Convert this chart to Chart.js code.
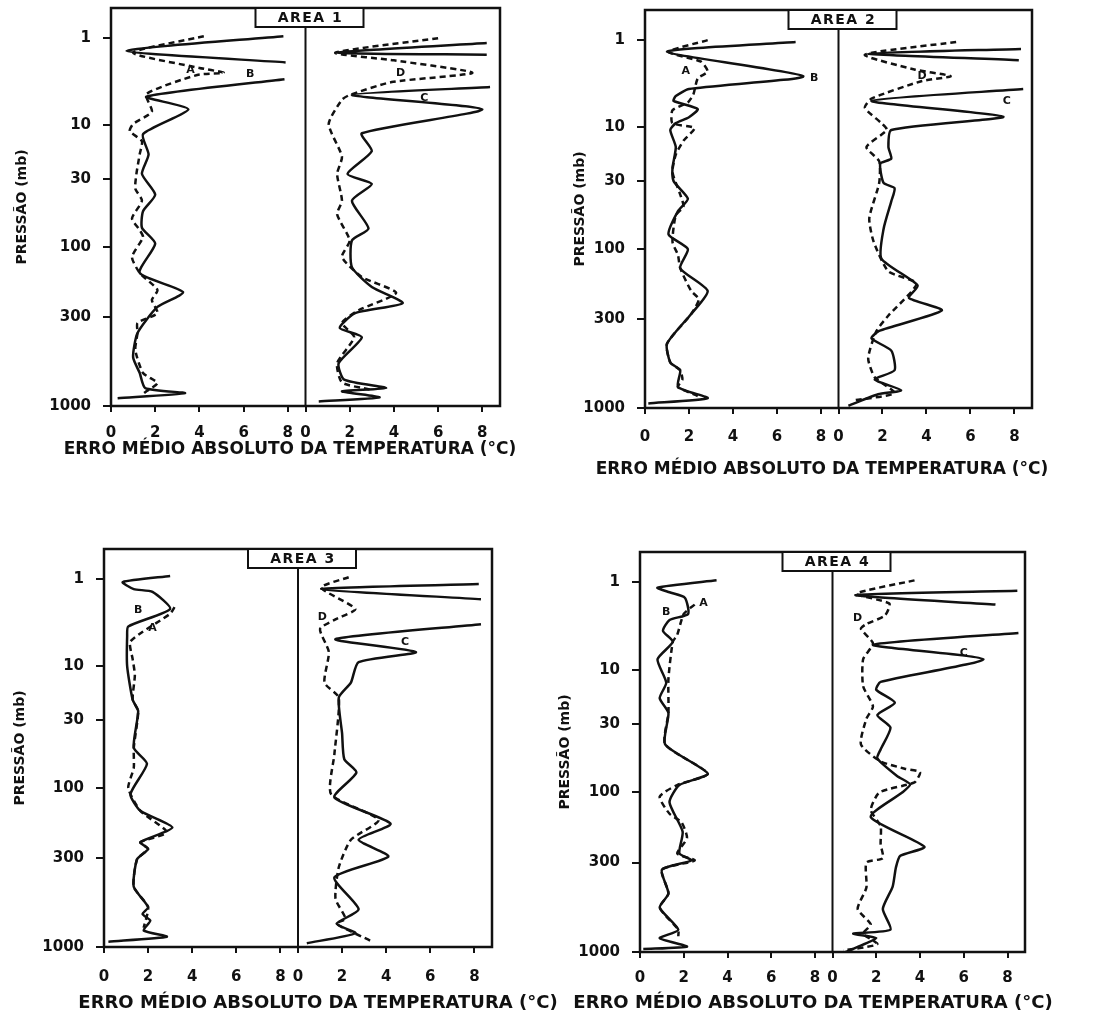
<!DOCTYPE html>
<html lang="pt">
<head>
<meta charset="utf-8">
<title>Erro médio absoluto da temperatura</title>
<script src="https://cdn.jsdelivr.net/npm/chart.js@4.4.1/dist/chart.umd.min.js"></script>
<style>
  html, body { margin: 0; padding: 0; background: #fff; }
  body { width: 1109px; height: 1023px; position: relative; overflow: hidden; }
  canvas { position: absolute; }
</style>
</head>
<body>
<canvas id="area1"></canvas>
<canvas id="area2"></canvas>
<canvas id="area3"></canvas>
<canvas id="area4"></canvas>
<script>
// ---- axis definitions -------------------------------------------------
const PRESSURE_TICKS = [1, 10, 30, 100, 300, 1000];          // mb
const ERROR_TICKS = [0, 2, 4, 6, 8];                           // °C, each sub-panel
const X_TITLE = 'ERRO MÉDIO ABSOLUTO DA TEMPERATURA (°C)';
const Y_TITLE = 'PRESSÃO (mb)';
const AREA_NAMES = ['AREA 1', 'AREA 2', 'AREA 3', 'AREA 4'];

// ---- profiles: [pressure (mb), mean absolute error (°C)] --------------
// null marks a stretch that runs off the 0–8 °C scale.
const AREA1_A = [[0.95,4.2],[1.47,1.0],[2.2,4.0],[2.5,5.1],[2.65,3.9],[4.4,1.6],[7,1.85],[9.7,1.0],[11.3,0.85],[13.9,1.4],[18,1.3],[27,1.15],[35.6,1.1],[44,1.4],[60,0.95],[74,1.3],[84,1.45],[117,0.95],[150,1.3],[196,2.1],[230,1.85],[282,2.1],[325,1.2],[372,1.2],[469,1.1],[640,1.45],[733,2.1],[820,1.6],[860,1.4]];
const AREA1_B = [[0.95,7.8],[1.4,0.7],[1.9,7.9],[2.4,null],[2.96,7.85],[4.7,1.6],[6.6,3.5],[12,1.45],[18.2,1.7],[27,1.4],[39.5,2.0],[53,1.45],[71,1.4],[94,2.0],[150,1.3],[203,3.26],[256,2.1],[372,1.2],[516,1.0],[640,1.3],[784,1.55],[840,3.35],[900,0.3]];
const AREA1_C = [[1.14,8.2],[1.47,1.43],[1.55,8.2],[2.5,null],[3.65,8.35],[4.5,2.1],[6.6,8.0],[11.8,2.55],[17,3.0],[27,1.9],[32.7,3.0],[44,2.1],[72,2.85],[89,2.1],[137,2.1],[187,3.0],[241,4.4],[282,2.25],[348,1.55],[394,2.55],[560,1.5],[700,1.75],[784,3.65],[820,1.65],[890,3.35],[940,0.6]];
const AREA1_D = [[1.0,6.0],[1.47,1.35],[1.8,4.0],[2.5,7.55],[3.2,3.9],[4.5,2.0],[5.1,1.65],[9.7,1.05],[19,1.65],[27,1.43],[44,1.65],[56,1.43],[89,2.0],[117,1.65],[160,2.55],[205,4.1],[270,2.4],[325,1.65],[394,2.2],[560,1.43],[727,1.65],[800,2.9]];

const AREA2_A = [[1.0,2.85],[1.36,1.07],[1.77,2.55],[2.3,2.85],[2.75,2.4],[4.2,2.2],[5.2,1.95],[6.4,1.25],[9,1.25],[10.2,2.25],[13.2,1.75],[17.5,1.4],[25,1.25],[38,1.6],[47,1.75],[55,1.4],[88,1.25],[110,1.5],[135,1.6],[193,2.1],[220,2.45],[277,2.1],[419,1.0],[540,1.15],[600,1.6],[680,1.7],[753,1.5],[850,2.4]];
const AREA2_B = [[1.05,6.85],[1.36,1.0],[2.6,7.2],[3.65,2.0],[4.4,1.4],[5,1.3],[6.2,2.4],[7.7,2.0],[9,1.4],[10.6,1.15],[15,1.4],[23,1.25],[30,1.3],[41,1.95],[51,1.5],[77,1.07],[100,1.95],[135,1.6],[193,2.85],[277,2.1],[419,1.0],[540,1.15],[600,1.6],[753,1.5],[876,2.85],[940,0.15]];
const AREA2_C = [[1.26,8.3],[1.43,1.35],[1.7,8.2],[2.5,null],[3.65,8.4],[5,1.5],[7.6,7.5],[10.6,2.4],[15,2.27],[19,2.4],[21,1.9],[31,2.05],[34,2.55],[43,2.4],[70,2.05],[116,1.95],[177,3.6],[215,3.2],[262,4.7],[352,1.85],[390,1.5],[460,2.4],[600,2.55],[680,1.65],[787,2.85],[830,1.8],[970,0.45]];
const AREA2_D = [[1.05,5.35],[1.47,1.2],[2.17,3.45],[2.6,5.1],[2.95,3.8],[4.7,1.5],[6,1.2],[9,1.95],[10.6,2.2],[15,1.27],[20,1.85],[31,1.85],[58,1.4],[88,1.6],[142,2.27],[172,3.55],[284,2.27],[352,1.73],[510,1.35],[660,1.65],[817,2.55],[900,0.75]];

const AREA3_A = [[2.1,3.2],[2.5,3.0],[5.2,1.2],[8.3,1.3],[12,1.4],[19.8,1.3],[25,1.55],[49,1.35],[70,1.35],[100,1.1],[143,1.65],[200,2.85],[234,1.65],[260,2.0],[305,1.5],[443,1.35],[582,2.0],[770,1.8]];
const AREA3_B = [[0.92,3.0],[1.08,0.85],[1.3,1.35],[1.4,2.2],[2.2,3.0],[3.5,1.1],[4.5,1.05],[10,1.05],[19.8,1.3],[25,1.55],[49,1.35],[65,1.95],[110,1.2],[143,1.65],[186,3.1],[234,1.65],[260,2.0],[305,1.5],[443,1.35],[582,2.0],[640,1.75],[700,2.1],[800,1.8],[870,2.85],[930,0.2]];
const AREA3_C = [[1.14,8.2],[1.3,1.05],[1.7,8.3],[2.5,null],[3.3,8.3],[4.9,1.7],[6.9,5.35],[9,2.75],[14,2.4],[19,1.85],[38,2.0],[60,2.1],[76,2.65],[116,1.65],[175,4.2],[225,2.75],[293,4.1],[390,1.65],[600,2.75],[730,1.75],[830,2.6],[950,0.4]];
const AREA3_D = [[0.95,2.3],[1.25,1.05],[2.2,2.6],[2.9,1.7],[3.75,1.0],[6.9,1.4],[14,1.2],[19,1.85],[55,1.65],[110,1.5],[165,3.65],[225,2.4],[340,1.85],[520,1.7],[680,2.15],[730,1.75],[920,3.3]];

const AREA4_A = [[1.8,2.5],[2.3,2.0],[4.0,1.7],[4.8,1.5],[12,1.3],[24,1.3],[43,1.15],[72,3.1],[88,1.7],[107,0.9],[140,1.35],[160,1.9],[205,2.15],[260,1.7],[290,2.5],[330,1.0],[455,1.3],[550,0.9],[740,1.75],[810,1.75]];
const AREA4_B = [[0.95,3.5],[1.15,0.8],[1.3,1.35],[1.5,2.05],[2.3,2.2],[2.7,1.35],[3.6,1.05],[4.8,1.5],[7.6,0.8],[13,1.2],[17.8,0.9],[24,1.3],[43,1.15],[72,3.1],[88,1.8],[117,1.35],[185,1.95],[260,1.8],[290,2.35],[330,1.0],[455,1.3],[550,0.9],[740,1.75],[830,0.9],[930,2.15],[960,0.15]];
const AREA4_C = [[1.25,8.45],[1.4,1.05],[1.8,7.45],[2.5,null],[3.8,8.5],[5.2,1.85],[7.6,6.9],[12.8,2.2],[15,2.0],[19.5,2.85],[25,2.05],[32,2.65],[47,2.2],[55,2.05],[75,2.95],[87,3.55],[100,3.2],[147,1.75],[234,4.2],[270,3.1],[320,2.9],[415,2.75],[560,2.3],[740,2.65],[780,0.95],[830,2.0],[940,1.1],[1000,0.6]];
const AREA4_D = [[0.95,3.75],[1.35,1.1],[1.75,2.6],[2.4,2.4],[3.0,1.55],[3.4,1.3],[5,1.85],[7.6,1.4],[14,1.4],[21,1.85],[27,1.55],[43,1.3],[58,2.2],[66,3.3],[70,4.0],[84,3.75],[100,2.15],[132,1.75],[170,2.2],[225,2.2],[280,2.3],[300,1.55],[420,1.55],[560,1.15],[690,1.75],[780,1.4],[900,2.05],[980,0.5]];

// curve tags: [letter, pressure (mb), error (°C), sub-panel]
const AREA1_TAGS = [['A',2.35,3.6,'left'],['B',2.6,6.3,'left'],['D',2.5,4.3,'right'],['C',4.9,5.37,'right']];
const AREA2_TAGS = [['A',2.3,1.85,'left'],['B',2.75,7.7,'left'],['D',2.6,3.8,'right'],['C',5.0,7.65,'right']];
const AREA3_TAGS = [['B',2.3,1.55,'left'],['A',3.7,2.2,'left'],['D',2.7,1.1,'right'],['C',5.3,4.85,'right']];
const AREA4_TAGS = [['A',1.75,2.9,'left'],['B',2.2,1.2,'left'],['D',2.6,1.15,'right'],['C',6.5,6.0,'right']];

// ---- drawing setup ---------------------------------------------------
const INK = '#111';
const FONT = "'DejaVu Sans', 'Liberation Sans', sans-serif";
Chart.defaults.font.family = FONT;
Chart.defaults.color = INK;

const ERROR_SPAN = 8.8;        // each sub-panel runs from 0 to this value
const PRESSURE_TOP = 0.45;     // pressure at the top edge of the frame
// vertical spacing between the labelled levels, in axis units
const LEVEL_UNITS = [0, 87, 141, 209, 279, 368];

function pressureUnits(p) {
  const lp = Math.log10(p);
  const L = PRESSURE_TICKS.map(Math.log10);
  let i = 0;
  while (i < L.length - 2 && lp > L[i + 1]) i++;
  const t = (lp - L[i]) / (L[i + 1] - L[i]);
  return LEVEL_UNITS[i] + t * (LEVEL_UNITS[i + 1] - LEVEL_UNITS[i]);
}
function unitsToPressure(u) {
  const L = PRESSURE_TICKS.map(Math.log10);
  let i = 0;
  while (i < L.length - 2 && u > LEVEL_UNITS[i + 1]) i++;
  const t = (u - LEVEL_UNITS[i]) / (LEVEL_UNITS[i + 1] - LEVEL_UNITS[i]);
  return Math.pow(10, L[i] + t * (L[i + 1] - L[i]));
}

// Pressure axis: logarithmic within each interval between labelled levels
class PressureScale extends Chart.LinearScale {
  static id = 'pressure';
  static defaults = {};
  determineDataLimits() {
    this.min = this.options.min;
    this.max = this.options.max;
  }
  buildTicks() {
    return PRESSURE_TICKS.map(value => ({ value }));
  }
  configure() {
    super.configure();
    this._uTop = pressureUnits(this.min);
    this._uBottom = pressureUnits(this.max);
  }
  getPixelForValue(value) {
    if (value === null || value === undefined || isNaN(value)) return NaN;
    return this.getPixelForDecimal((pressureUnits(value) - this._uTop) / (this._uBottom - this._uTop));
  }
  getValueForPixel(pixel) {
    return unitsToPressure(this._uTop + this.getDecimalForPixel(pixel) * (this._uBottom - this._uTop));
  }
}
Chart.register(PressureScale);

// frame, divider, area box and curve tags
const panelFrame = {
  id: 'panelFrame',
  afterDatasetsDraw(chart, args, opts) {
    const { ctx, chartArea: a, scales } = chart;
    ctx.save();
    ctx.strokeStyle = INK;
    ctx.lineWidth = 2.5;
    ctx.strokeRect(a.left, a.top, a.width, a.height);
    const xd = scales.x2.getPixelForValue(0);
    ctx.lineWidth = 2;
    ctx.beginPath();
    ctx.moveTo(xd, a.top);
    ctx.lineTo(xd, a.bottom);
    ctx.stroke();

    // area name box hanging from the top edge
    const bw = 108, bh = 19, bx = xd + 4 - bw / 2;
    ctx.fillStyle = '#fff';
    ctx.fillRect(bx, a.top, bw, bh);
    ctx.lineWidth = 2;
    ctx.strokeRect(bx, a.top, bw, bh);
    ctx.fillStyle = INK;
    ctx.font = 'bold 14px ' + FONT;
    ctx.textAlign = 'center';
    ctx.textBaseline = 'middle';
    if ('letterSpacing' in ctx) ctx.letterSpacing = '1.5px';
    ctx.fillText(opts.name, xd + 5, a.top + bh / 2 + 1);
    if ('letterSpacing' in ctx) ctx.letterSpacing = '0px';

    // letters identifying each curve
    ctx.font = 'bold 11px ' + FONT;
    for (const [letter, p, t, side] of opts.tags) {
      const xs = side === 'left' ? scales.x : scales.x2;
      ctx.fillText(letter, xs.getPixelForValue(t), scales.y.getPixelForValue(p));
    }
    ctx.restore();
  }
};

function profile(pairs) {
  return pairs.map(([p, t]) => ({ x: t, y: p }));
}
function curve(label, pairs, axis, dashed) {
  return {
    label,
    data: profile(pairs),
    xAxisID: axis,
    yAxisID: 'y',
    borderColor: INK,
    borderWidth: 2.5,
    borderDash: dashed ? [6, 4] : [],
    pointRadius: 0,
    tension: 0.2,
    fill: false,
    spanGaps: false
  };
}

// canvas placement and axis box sizes for each panel
const PANEL_BOXES = [
  { id: 'area1', left: 0,   top: -22, width: 580, height: 483, padBottom: 0.8, yWidth: 111, rightWidth: 80,  xHeight: 33.8, yTitlePad: 13.6, xTickPad: 12, titleSize: 17 },
  { id: 'area2', left: 560, top: -20, width: 524, height: 501, padBottom: 0.8, yWidth: 85,  rightWidth: 52,  xHeight: 51.8, yTitlePad: 11.6, xTickPad: 14, titleSize: 17 },
  { id: 'area3', left: 0,   top: 519, width: 636, height: 495, padBottom: 0.2, yWidth: 104, rightWidth: 144, xHeight: 45.2, yTitlePad: 11.6, xTickPad: 15, titleSize: 18 },
  { id: 'area4', left: 548, top: 522, width: 530, height: 492, padBottom: 0.2, yWidth: 92,  rightWidth: 53,  xHeight: 40.2, yTitlePad: 8.6,  xTickPad: 11, titleSize: 18 }
];

const PANEL_DATA = [
  { A: AREA1_A, B: AREA1_B, C: AREA1_C, D: AREA1_D, tags: AREA1_TAGS },
  { A: AREA2_A, B: AREA2_B, C: AREA2_C, D: AREA2_D, tags: AREA2_TAGS },
  { A: AREA3_A, B: AREA3_B, C: AREA3_C, D: AREA3_D, tags: AREA3_TAGS },
  { A: AREA4_A, B: AREA4_B, C: AREA4_C, D: AREA4_D, tags: AREA4_TAGS }
];

PANEL_BOXES.forEach((box, k) => {
  const d = PANEL_DATA[k];
  const canvas = document.getElementById(box.id);
  canvas.width = box.width;
  canvas.height = box.height;
  Object.assign(canvas.style, {
    left: box.left + 'px', top: box.top + 'px',
    width: box.width + 'px', height: box.height + 'px'
  });

  new Chart(canvas, {
    type: 'line',
    data: {
      datasets: [
        curve('A', d.A, 'x', true),
        curve('B', d.B, 'x', false),
        curve('C', d.C, 'x2', false),
        curve('D', d.D, 'x2', true)
      ]
    },
    options: {
      responsive: false,
      animation: false,
      events: [],
      layout: { padding: { left: 0, right: 0, top: 30, bottom: box.padBottom } },
      scales: {
        x: {
          type: 'linear',
          position: 'bottom',
          min: 0,
          max: 2 * ERROR_SPAN,
          afterBuildTicks(scale) {
            scale.ticks = ERROR_TICKS.map(v => ({ value: v }))
              .concat(ERROR_TICKS.map(v => ({ value: v + ERROR_SPAN })));
          },
          afterFit(scale) { scale.height = box.xHeight; },
          ticks: {
            autoSkip: false,
            maxRotation: 0,
            padding: box.xTickPad,
            font: { size: 15, weight: 'bold' },
            callback(value) {
              const v = value >= ERROR_SPAN - 1e-9 ? value - ERROR_SPAN : value;
              return String(Math.round(v * 10) / 10);
            }
          },
          grid: { drawOnChartArea: false, drawTicks: true, tickLength: 6, color: INK, lineWidth: 2 },
          border: { display: false }
        },
        x2: {
          type: 'linear',
          position: 'bottom',
          display: false,
          min: -ERROR_SPAN,
          max: ERROR_SPAN
        },
        y: {
          type: 'pressure',
          position: 'left',
          reverse: true,
          min: PRESSURE_TOP,
          max: 1000,
          afterFit(scale) { scale.width = box.yWidth; },
          ticks: {
            padding: 12,
            font: { size: 15, weight: 'bold' },
            callback: value => String(value)
          },
          grid: { drawOnChartArea: false, drawTicks: true, tickLength: 8, color: INK, lineWidth: 2 },
          border: { display: false },
          title: {
            display: true,
            text: Y_TITLE,
            font: { size: 14, weight: 'bold' },
            padding: { top: box.yTitlePad, bottom: 0 }
          }
        },
        yr: {
          type: 'linear',
          position: 'right',
          afterFit(scale) { scale.width = box.rightWidth; },
          ticks: { display: false },
          grid: { display: false },
          border: { display: false }
        }
      },
      plugins: {
        legend: { display: false },
        tooltip: { enabled: false },
        title: {
          display: true,
          text: X_TITLE,
          position: 'bottom',
          padding: 0,
          font: { size: box.titleSize, weight: 'bold' },
          color: INK
        },
        panelFrame: { name: AREA_NAMES[k], tags: d.tags }
      }
    },
    plugins: [panelFrame]
  });
});
</script>
</body>
</html>
